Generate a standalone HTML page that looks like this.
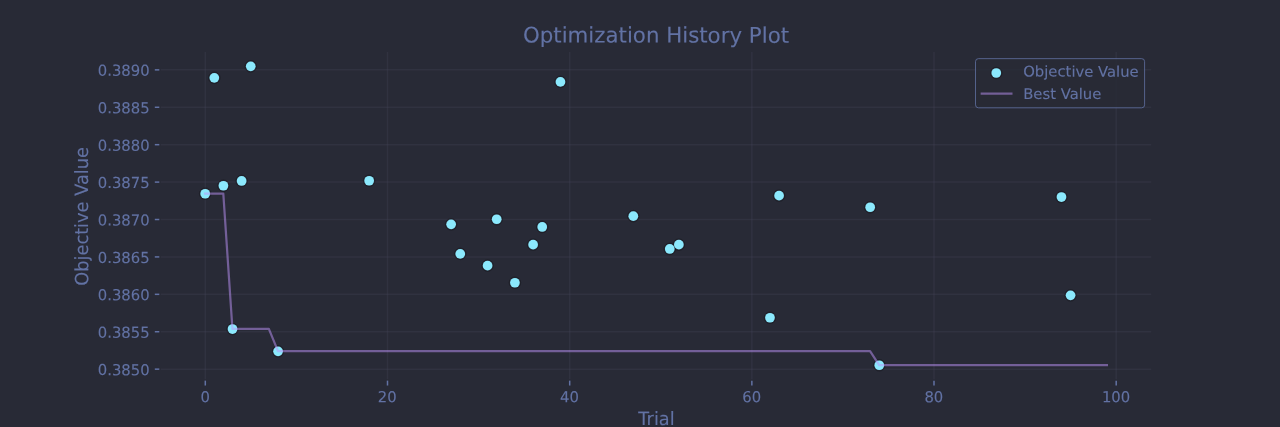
<!DOCTYPE html>
<html lang="en">
<head>
<meta charset="utf-8">
<title>Optimization History Plot</title>
<style>
html,body{margin:0;padding:0;background:#282a36;overflow:hidden}
svg{display:block}
text{font-family:"DejaVu Sans","Liberation Sans",sans-serif;fill:#6272a4;text-rendering:geometricPrecision;stroke:#6272a4;stroke-width:0.12px}
.tk{font-size:14.8148px}
.lb{font-size:17.7778px}
.tt{font-size:21.3333px}
</style>
</head>
<body>
<svg width="1280" height="427" viewBox="0 0 1280 427">
<rect x="0" y="0" width="1280" height="427" fill="#282a36"/>
<g>
<g stroke="#44475a" stroke-opacity="0.3" stroke-width="1.5" fill="none">
<line x1="205.3" y1="51.98" x2="205.3" y2="379.29"/>
<line x1="387.5" y1="51.98" x2="387.5" y2="379.29"/>
<line x1="569.7" y1="51.98" x2="569.7" y2="379.29"/>
<line x1="751.85" y1="51.98" x2="751.85" y2="379.29"/>
<line x1="934" y1="51.98" x2="934" y2="379.29"/>
<line x1="1116.2" y1="51.98" x2="1116.2" y2="379.29"/>
<line x1="160.74" y1="369.15" x2="1151.26" y2="369.15"/>
<line x1="160.74" y1="331.74" x2="1151.26" y2="331.74"/>
<line x1="160.74" y1="294.33" x2="1151.26" y2="294.33"/>
<line x1="160.74" y1="256.92" x2="1151.26" y2="256.92"/>
<line x1="160.74" y1="219.51" x2="1151.26" y2="219.51"/>
<line x1="160.74" y1="182.1" x2="1151.26" y2="182.1"/>
<line x1="160.74" y1="144.69" x2="1151.26" y2="144.69"/>
<line x1="160.74" y1="107.28" x2="1151.26" y2="107.28"/>
<line x1="160.74" y1="69.87" x2="1151.26" y2="69.87"/>
</g>
<g fill="none" stroke="#000" stroke-opacity="0.25" stroke-width="1">
<circle cx="205.19" cy="193.75" r="5.8"/>
<circle cx="214.3" cy="77.85" r="5.8"/>
<circle cx="223.41" cy="185.75" r="5.8"/>
<circle cx="232.52" cy="329.05" r="5.8"/>
<circle cx="241.63" cy="180.95" r="5.8"/>
<circle cx="250.74" cy="66.35" r="5.8"/>
<circle cx="278.07" cy="351.35" r="5.8"/>
<circle cx="369.16" cy="180.75" r="5.8"/>
<circle cx="451.14" cy="224.35" r="5.8"/>
<circle cx="460.25" cy="253.85" r="5.8"/>
<circle cx="487.58" cy="265.65" r="5.8"/>
<circle cx="496.69" cy="219.25" r="5.8"/>
<circle cx="514.91" cy="282.75" r="5.8"/>
<circle cx="533.12" cy="244.65" r="5.8"/>
<circle cx="542.23" cy="226.95" r="5.8"/>
<circle cx="560.45" cy="81.9" r="5.8"/>
<circle cx="633.33" cy="216.15" r="5.8"/>
<circle cx="669.76" cy="248.95" r="5.8"/>
<circle cx="678.87" cy="244.65" r="5.8"/>
<circle cx="769.97" cy="317.75" r="5.8"/>
<circle cx="779.08" cy="195.65" r="5.8"/>
<circle cx="870.17" cy="207.25" r="5.8"/>
<circle cx="879.28" cy="365.25" r="5.8"/>
<circle cx="1061.46" cy="197.05" r="5.8"/>
<circle cx="1070.57" cy="295.35" r="5.8"/>
</g>
<g fill="#8be9fd">
<circle cx="205.19" cy="193.75" r="4.85"/>
<circle cx="214.3" cy="77.85" r="4.85"/>
<circle cx="223.41" cy="185.75" r="4.85"/>
<circle cx="232.52" cy="329.05" r="4.85"/>
<circle cx="241.63" cy="180.95" r="4.85"/>
<circle cx="250.74" cy="66.35" r="4.85"/>
<circle cx="278.07" cy="351.35" r="4.85"/>
<circle cx="369.16" cy="180.75" r="4.85"/>
<circle cx="451.14" cy="224.35" r="4.85"/>
<circle cx="460.25" cy="253.85" r="4.85"/>
<circle cx="487.58" cy="265.65" r="4.85"/>
<circle cx="496.69" cy="219.25" r="4.85"/>
<circle cx="514.91" cy="282.75" r="4.85"/>
<circle cx="533.12" cy="244.65" r="4.85"/>
<circle cx="542.23" cy="226.95" r="4.85"/>
<circle cx="560.45" cy="81.9" r="4.85"/>
<circle cx="633.33" cy="216.15" r="4.85"/>
<circle cx="669.76" cy="248.95" r="4.85"/>
<circle cx="678.87" cy="244.65" r="4.85"/>
<circle cx="769.97" cy="317.75" r="4.85"/>
<circle cx="779.08" cy="195.65" r="4.85"/>
<circle cx="870.17" cy="207.25" r="4.85"/>
<circle cx="879.28" cy="365.25" r="4.85"/>
<circle cx="1061.46" cy="197.05" r="4.85"/>
<circle cx="1070.57" cy="295.35" r="4.85"/>
</g>
<polyline points="205.09,193.6 223.31,193.6 232.42,328.9 268.86,328.9 277.97,351.2 870.07,351.2 879.18,365.1 1106.91,365.1" fill="none" stroke="#bd93f9" stroke-opacity="0.5" stroke-width="2.222" stroke-linecap="square" stroke-linejoin="round"/>
<g stroke="#6272a4" stroke-width="1.5" fill="none">
<line x1="205.3" y1="380.63" x2="205.3" y2="385.53"/>
<line x1="387.5" y1="380.63" x2="387.5" y2="385.53"/>
<line x1="569.7" y1="380.63" x2="569.7" y2="385.53"/>
<line x1="751.85" y1="380.63" x2="751.85" y2="385.53"/>
<line x1="934" y1="380.63" x2="934" y2="385.53"/>
<line x1="1116.2" y1="380.63" x2="1116.2" y2="385.53"/>
<line x1="154.81" y1="369.15" x2="159.3" y2="369.15"/>
<line x1="154.81" y1="331.74" x2="159.3" y2="331.74"/>
<line x1="154.81" y1="294.33" x2="159.3" y2="294.33"/>
<line x1="154.81" y1="256.92" x2="159.3" y2="256.92"/>
<line x1="154.81" y1="219.51" x2="159.3" y2="219.51"/>
<line x1="154.81" y1="182.1" x2="159.3" y2="182.1"/>
<line x1="154.81" y1="144.69" x2="159.3" y2="144.69"/>
<line x1="154.81" y1="107.28" x2="159.3" y2="107.28"/>
<line x1="154.81" y1="69.87" x2="159.3" y2="69.87"/>
</g>
<text class="tk" text-anchor="middle" transform="translate(205.09 402.3) rotate(0.03) scale(1 1.03)">0</text>
<text class="tk" text-anchor="middle" transform="translate(387.28 402.3) rotate(0.03) scale(1 1.03)">20</text>
<text class="tk" text-anchor="middle" transform="translate(569.46 402.3) rotate(0.03) scale(1 1.03)">40</text>
<text class="tk" text-anchor="middle" transform="translate(751.65 402.3) rotate(0.03) scale(1 1.03)">60</text>
<text class="tk" text-anchor="middle" transform="translate(933.83 402.3) rotate(0.03) scale(1 1.03)">80</text>
<text class="tk" text-anchor="middle" transform="translate(1116.02 402.3) rotate(0.03) scale(1 1.03)">100</text>
<text class="tk" text-anchor="end" transform="translate(149.6 75.87) rotate(0.03) scale(1 1.03)">0.3890</text>
<text class="tk" text-anchor="end" transform="translate(149.6 113.28) rotate(0.03) scale(1 1.03)">0.3885</text>
<text class="tk" text-anchor="end" transform="translate(149.6 150.69) rotate(0.03) scale(1 1.03)">0.3880</text>
<text class="tk" text-anchor="end" transform="translate(149.6 188.1) rotate(0.03) scale(1 1.03)">0.3875</text>
<text class="tk" text-anchor="end" transform="translate(149.6 225.51) rotate(0.03) scale(1 1.03)">0.3870</text>
<text class="tk" text-anchor="end" transform="translate(149.6 262.92) rotate(0.03) scale(1 1.03)">0.3865</text>
<text class="tk" text-anchor="end" transform="translate(149.6 300.33) rotate(0.03) scale(1 1.03)">0.3860</text>
<text class="tk" text-anchor="end" transform="translate(149.6 337.74) rotate(0.03) scale(1 1.03)">0.3855</text>
<text class="tk" text-anchor="end" transform="translate(149.6 375.15) rotate(0.03) scale(1 1.03)">0.3850</text>
<text class="lb" text-anchor="middle" transform="translate(656.5 425) rotate(0.03) scale(1 1.03)">Trial</text>
<text class="lb" text-anchor="middle" transform="translate(88.1 216.4) rotate(-90.03) scale(1 1.03)">Objective Value</text>
<text class="tt" text-anchor="middle" transform="translate(656 42.6) rotate(0.03) scale(1 1.01)">Optimization History Plot</text>
<rect x="975.53" y="58.65" width="169.07" height="49.17" rx="2.96" ry="2.96" fill="#282a36" fill-opacity="0.8" stroke="#6272a4" stroke-opacity="0.8" stroke-width="1"/>
<circle cx="996.27" cy="73.02" r="5.8" fill="none" stroke="#000" stroke-opacity="0.25" stroke-width="1"/>
<circle cx="996.27" cy="73.02" r="4.85" fill="#8be9fd"/>
<line x1="981.75" y1="93.65" x2="1011.4" y2="93.65" stroke="#bd93f9" stroke-opacity="0.5" stroke-width="2.222" stroke-linecap="square"/>
<text class="tk" transform="translate(1023.2 76.6) rotate(0.03)">Objective Value</text>
<text class="tk" transform="translate(1023.2 98.9) rotate(0.03)">Best Value</text>
</g>
</svg>
</body>
</html>
